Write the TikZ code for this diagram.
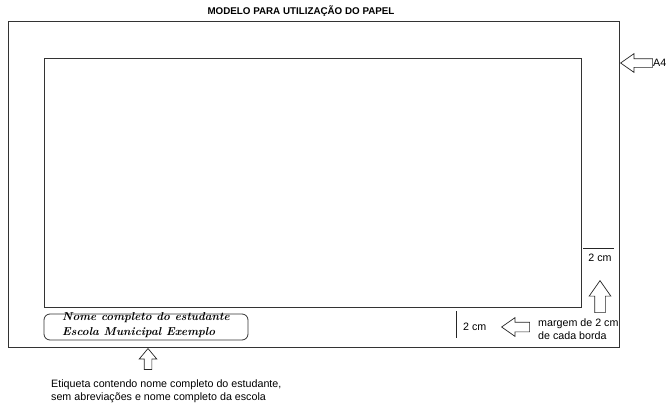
\documentclass[tikz,border=0pt]{standalone}
\usepackage{fontspec}
\newfontfamily\arial{Liberation Sans}
\usetikzlibrary{shapes.arrows}

\tikzset{
  borda/.style={draw=black!80, line width=0.9pt},
  seta/.style={single arrow, draw=black!85, line width=0.7pt, fill=white,
    inner xsep=0pt, single arrow tip angle=70, anchor=tip},
  texto/.style={font=\arial\fontsize{10.7}{13}\selectfont, inner sep=0pt, align=left},
  manuscrito/.style={font=\bfseries\itshape\fontsize{11.5}{15}\selectfont, inner sep=0pt, align=left, anchor=west},
}

\begin{document}
\begin{tikzpicture}[x=1pt,y=-1pt]
                \useasboundingbox (0,0) rectangle (667,405);

                %folha A4 e area util
                \draw[borda] (8,21) rectangle (619,347);
                \draw[borda] (44,58) rectangle (581,307);

                \node[texto, font=\arial\bfseries\fontsize{9.8}{11}\selectfont] (titulo) at (301,11) {MODELO PARA UTILIZAÇÃO DO PAPEL};

                %seta da folha
                \node[seta, inner ysep=4pt, single arrow head extend=5pt, minimum height=32pt, rotate=180] (setaA4) at (620,63) {};
                \node[texto, anchor=west] (a4) at (653,63) {A4};

                %etiqueta
                \node[draw=black!80, line width=0.8pt, rounded corners=6pt, minimum width=204pt, minimum height=26pt] (etiqueta) at (146,327) {};
                \node[manuscrito] (nome) at (62,325.5) {Nome completo do estudante\\Escola Municipal Exemplo};
                \node[seta, inner ysep=3.5pt, single arrow head extend=5pt, minimum height=21pt, single arrow tip angle=80, rotate=90] (setaEtiqueta) at (148,348) {};
                \node[texto, anchor=north west] (legenda) at (51,380) {Etiqueta contendo nome completo do estudante,\\sem abreviações e nome completo da escola};

                %margens
                \draw[black!85, line width=0.8pt] (583,248) -- (614,248);
                \node[texto] (cmDireita) at (600,258) {2 cm};
                \node[seta, inner ysep=5pt, single arrow head extend=5.5pt, minimum height=32pt, rotate=90] (setaDireita) at (600,280) {};

                \draw[black!85, line width=0.8pt] (456,311) -- (456,338);
                \node[texto, anchor=west] (cmBaixo) at (463,327) {2 cm};
                \node[seta, inner ysep=4.5pt, single arrow head extend=4.5pt, minimum height=28pt, rotate=180] (setaBaixo) at (501,327) {};
                \node[texto, anchor=west] (margem) at (538,329) {margem de 2 cm\\de cada borda};

            \end{tikzpicture}
\end{document}
